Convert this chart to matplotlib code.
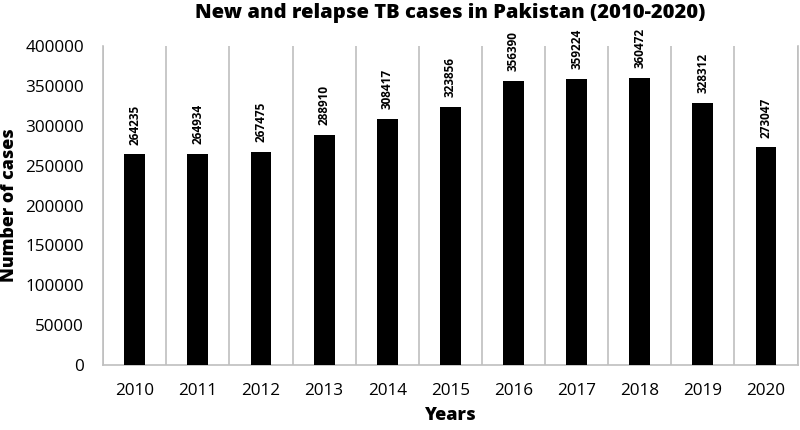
import matplotlib
matplotlib.use("Agg")
import matplotlib.pyplot as plt
import numpy as np

years = ["2010", "2011", "2012", "2013", "2014", "2015", "2016", "2017", "2018", "2019", "2020"]
cases = [264235, 264934, 267475, 288910, 308417, 323856, 356390, 359224, 360472, 328312, 273047]
yticks = [0, 50000, 100000, 150000, 200000, 250000, 300000, 350000, 400000]

plt.rcParams['font.family'] = ['Open Sans', 'DejaVu Sans']

fig = plt.figure(figsize=(8, 4.3), dpi=100)
ax = fig.add_axes([0.129, 0.151, 0.868, 0.742])

x = np.arange(len(years))
ax.bar(x, cases, width=0.33, color='black', zorder=3)
for xi, v in zip(x, cases):
    ax.annotate(str(v), (xi, v), xytext=(0, 7), textcoords='offset points',
                rotation=90, ha='center', va='bottom', fontsize=8.5, fontweight='bold')

ax.set_xlim(-0.5, len(years) - 0.5)
ax.set_ylim(0, 400000)
ax.set_xticks(x)
ax.set_xticklabels(years)
ax.set_yticks(yticks)
ax.set_yticklabels([str(t) for t in yticks])
ax.set_xticks(np.arange(-0.5, len(years), 1.0), minor=True)
ax.grid(which='minor', axis='x', color='#bfbfbf', linewidth=1.2, zorder=0)
ax.grid(which='major', visible=False)
ax.tick_params(axis='both', which='both', length=0, labelsize=12.3)
ax.tick_params(axis='x', pad=13)
ax.tick_params(axis='y', pad=14)
ax.spines['top'].set_visible(False)
for s in ['left', 'right', 'bottom']:
    ax.spines[s].set_color('#bfbfbf')
    ax.spines[s].set_linewidth(1.2)

ax.set_title("New and relapse TB cases in Pakistan (2010-2020)", fontsize=14.5, fontweight='heavy', pad=20)
ax.set_xlabel("Years", fontsize=13, fontweight='heavy', labelpad=6)
ax.set_ylabel("Number of cases", fontsize=12.8, fontweight='heavy', labelpad=5)

fig.savefig("out.png", dpi=100)
